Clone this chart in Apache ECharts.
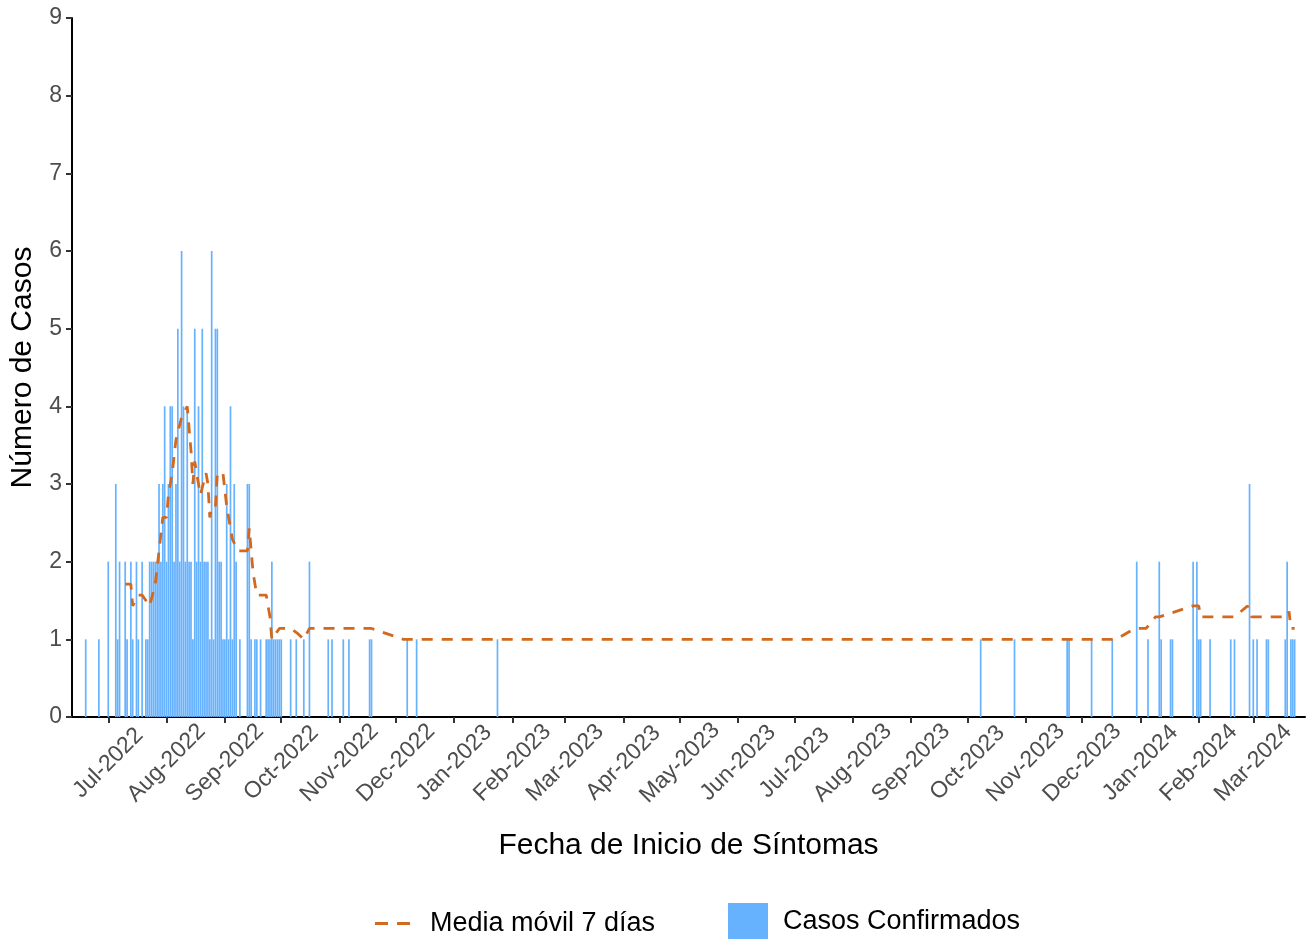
<!DOCTYPE html>
<html lang="es">
<head>
<meta charset="utf-8" />
<title>Casos confirmados por fecha de inicio de síntomas</title>
<script src="https://cdn.jsdelivr.net/npm/echarts@6.0.0/dist/echarts.min.js"></script>
<style>
  html, body { margin: 0; padding: 0; background: #fff; }
  #chart { width: 1314px; height: 939px; }
</style>
</head>
<body>
<div id="chart"></div>
<script type="text/javascript">
// casos confirmados por día (solo días con casos)
const caseDates = [
  '2022-06-19','2022-06-26','2022-07-01','2022-07-05','2022-07-06','2022-07-07','2022-07-10','2022-07-11',
  '2022-07-13','2022-07-14','2022-07-16','2022-07-17','2022-07-19','2022-07-21','2022-07-22','2022-07-23',
  '2022-07-24','2022-07-25','2022-07-26','2022-07-27','2022-07-28','2022-07-29','2022-07-30','2022-07-31',
  '2022-08-01','2022-08-02','2022-08-03','2022-08-04','2022-08-05','2022-08-06','2022-08-07','2022-08-08',
  '2022-08-09','2022-08-10','2022-08-11','2022-08-12','2022-08-13','2022-08-14','2022-08-15','2022-08-16',
  '2022-08-17','2022-08-18','2022-08-19','2022-08-20','2022-08-21','2022-08-22','2022-08-23','2022-08-24',
  '2022-08-25','2022-08-26','2022-08-27','2022-08-28','2022-08-29','2022-08-30','2022-08-31','2022-09-01',
  '2022-09-02','2022-09-03','2022-09-04','2022-09-05','2022-09-06','2022-09-07','2022-09-09','2022-09-13',
  '2022-09-14','2022-09-15','2022-09-17','2022-09-18','2022-09-20','2022-09-23','2022-09-24','2022-09-25',
  '2022-09-26','2022-09-27','2022-09-28','2022-09-29','2022-09-30','2022-10-01','2022-10-06','2022-10-09',
  '2022-10-13','2022-10-16','2022-10-26','2022-10-28','2022-11-03','2022-11-06','2022-11-17','2022-11-18',
  '2022-12-07','2022-12-12','2023-01-24','2023-10-08','2023-10-26','2023-11-23','2023-11-24','2023-12-06',
  '2023-12-17','2023-12-30','2024-01-05','2024-01-11','2024-01-12','2024-01-17','2024-01-18','2024-01-29',
  '2024-01-31','2024-02-01','2024-02-02','2024-02-07','2024-02-18','2024-02-20','2024-02-28','2024-03-01',
  '2024-03-03','2024-03-08','2024-03-09','2024-03-18','2024-03-19','2024-03-21','2024-03-22','2024-03-23'
];
const caseCounts = [
  1,1,2,3,1,2,2,1,
  2,1,2,1,2,1,1,2,
  2,2,2,2,3,2,3,4,
  2,3,4,4,2,3,5,2,
  6,4,2,4,2,2,1,5,
  2,4,2,5,2,2,2,1,
  6,1,5,5,2,2,1,1,
  3,1,4,1,3,2,1,3,
  3,1,1,1,1,1,1,1,
  2,1,1,1,1,1,1,1,
  1,2,1,1,1,1,1,1,
  1,1,1,1,1,1,1,1,
  1,2,1,2,1,1,1,2,
  2,1,1,1,1,1,3,1,
  1,1,1,1,2,1,1,1
];

// media móvil 7 días
const maDates = [
  '2022-07-10','2022-07-13','2022-07-14','2022-07-17','2022-07-19','2022-07-23','2022-07-26','2022-07-28',
  '2022-07-30','2022-08-01','2022-08-02','2022-08-04','2022-08-06','2022-08-07','2022-08-09','2022-08-12',
  '2022-08-13','2022-08-14','2022-08-15','2022-08-16','2022-08-17','2022-08-19','2022-08-22','2022-08-23',
  '2022-08-24','2022-08-25','2022-08-27','2022-08-28','2022-08-31','2022-09-02','2022-09-05','2022-09-08',
  '2022-09-13','2022-09-14','2022-09-16','2022-09-18','2022-09-23','2022-09-25','2022-09-26','2022-09-30',
  '2022-10-06','2022-10-10','2022-10-13','2022-10-16','2022-11-18','2022-12-05','2023-12-19','2023-12-29',
  '2024-01-04','2024-01-09','2024-01-11','2024-01-29','2024-02-01','2024-02-02','2024-02-20','2024-02-27',
  '2024-02-29','2024-03-19','2024-03-20','2024-03-21','2024-03-23'
];
const maValues = [
  1.71,1.71,1.43,1.57,1.57,1.43,1.71,2.14,
  2.57,2.57,2.86,3.14,3.57,3.57,3.86,4.00,
  3.71,3.43,3.00,3.29,3.14,2.86,3.14,3.00,
  2.57,2.71,2.71,3.14,3.14,2.71,2.29,2.14,
  2.14,2.43,1.86,1.57,1.57,1.29,1.00,1.14,
  1.14,1.07,1.00,1.14,1.14,1.00,1.00,1.14,
  1.14,1.29,1.29,1.43,1.43,1.29,1.29,1.43,
  1.29,1.29,1.36,1.14,1.14
];

// marcas del eje x
const tickDates = [
  '2022-07-01','2022-08-01','2022-09-01','2022-10-01','2022-11-01','2022-12-01','2023-01-01',
  '2023-02-01','2023-03-01','2023-04-01','2023-05-01','2023-06-01','2023-07-01','2023-08-01',
  '2023-09-01','2023-10-01','2023-11-01','2023-12-01','2024-01-01','2024-02-01','2024-03-01'
];
const tickLabels = [
  'Jul-2022','Aug-2022','Sep-2022','Oct-2022','Nov-2022','Dec-2022','Jan-2023',
  'Feb-2023','Mar-2023','Apr-2023','May-2023','Jun-2023','Jul-2023','Aug-2023',
  'Sep-2023','Oct-2023','Nov-2023','Dec-2023','Jan-2024','Feb-2024','Mar-2024'
];

// fecha 'YYYY-MM-DD' -> milisegundos (UTC)
const toTime = function(s) {
  const p = s.split('-');
  return Date.UTC(+p[0], +p[1] - 1, +p[2]);
};
const tickTimes = tickDates.map(toTime);

const chart = echarts.init(document.getElementById('chart'));
const FONT = '"Liberation Sans", Arial, sans-serif';

const option = {
  animation: false,
  backgroundColor: '#fff',
  textStyle: { fontFamily: FONT },
  grid: { left: 72, right: 9, top: 18, bottom: 222, containLabel: false, outerBoundsMode: 'none' },
  legend: [{
    data: [{ name: 'Media móvil 7 días', icon: 'path://M0,0H13V3H0Z M22,0H35V3H22Z' }],
    left: 370,
    top: 905,
    itemWidth: 35,
    itemHeight: 3,
    textStyle: { fontSize: 27, color: '#000', fontFamily: FONT, padding: [0, 0, 0, 15] }
  }, {
    data: [{ name: 'Casos Confirmados', icon: 'rect' }],
    left: 723,
    top: 898,
    itemWidth: 40,
    itemHeight: 38,
    textStyle: { fontSize: 27, color: '#000', fontFamily: FONT, padding: [2, 0, 0, 10] }
  }],
  xAxis: {
    type: 'value',
    min: Date.UTC(2022, 5, 11, 17),
    max: Date.UTC(2024, 2, 28, 12),
    scale: true,
    name: 'Fecha de Inicio de Síntomas',
    nameLocation: 'middle',
    nameGap: 114,
    nameTextStyle: { fontSize: 30, color: '#000', fontFamily: FONT },
    axisLine: { onZero: false, lineStyle: { color: '#000', width: 2 } },
    axisTick: { customValues: tickTimes, length: 6, lineStyle: { color: '#333', width: 2 } },
    axisLabel: {
      customValues: tickTimes,
      rotate: 45,
      align: 'center',
      verticalAlign: 'middle',
      margin: 46,
      fontSize: 23,
      color: '#4d4d4d',
      fontFamily: FONT,
      formatter: function(val) {
        const i = tickTimes.indexOf(val);
        return i >= 0 ? tickLabels[i] : '';
      }
    },
    splitLine: { show: false }
  },
  yAxis: {
    type: 'value',
    min: 0,
    max: 9,
    interval: 1,
    name: 'Número de Casos',
    nameLocation: 'middle',
    nameGap: 34,
    nameTextStyle: { fontSize: 30, color: '#000', fontFamily: FONT },
    axisLine: { show: true, lineStyle: { color: '#000', width: 2 } },
    axisTick: { show: true, length: 6, lineStyle: { color: '#333', width: 2 } },
    axisLabel: { fontSize: 23, color: '#4d4d4d', margin: 10, fontFamily: FONT },
    splitLine: { show: false }
  },
  series: [{
    name: 'Casos Confirmados',
    type: 'bar',
    barWidth: 1.7,
    itemStyle: { color: '#66B2FF' },
    data: caseDates.map(function(d, i) { return [toTime(d), caseCounts[i]]; })
  }, {
    name: 'Media móvil 7 días',
    type: 'line',
    symbol: 'none',
    showSymbol: false,
    z: 3,
    lineStyle: { color: '#D2691E', width: 2.8, type: [11, 9] },
    itemStyle: { color: '#D2691E' },
    data: maDates.map(function(d, i) { return [toTime(d), maValues[i]]; })
  }]
};

chart.setOption(option);
window.onresize = function() { chart.resize(); };
</script>
</body>
</html>
